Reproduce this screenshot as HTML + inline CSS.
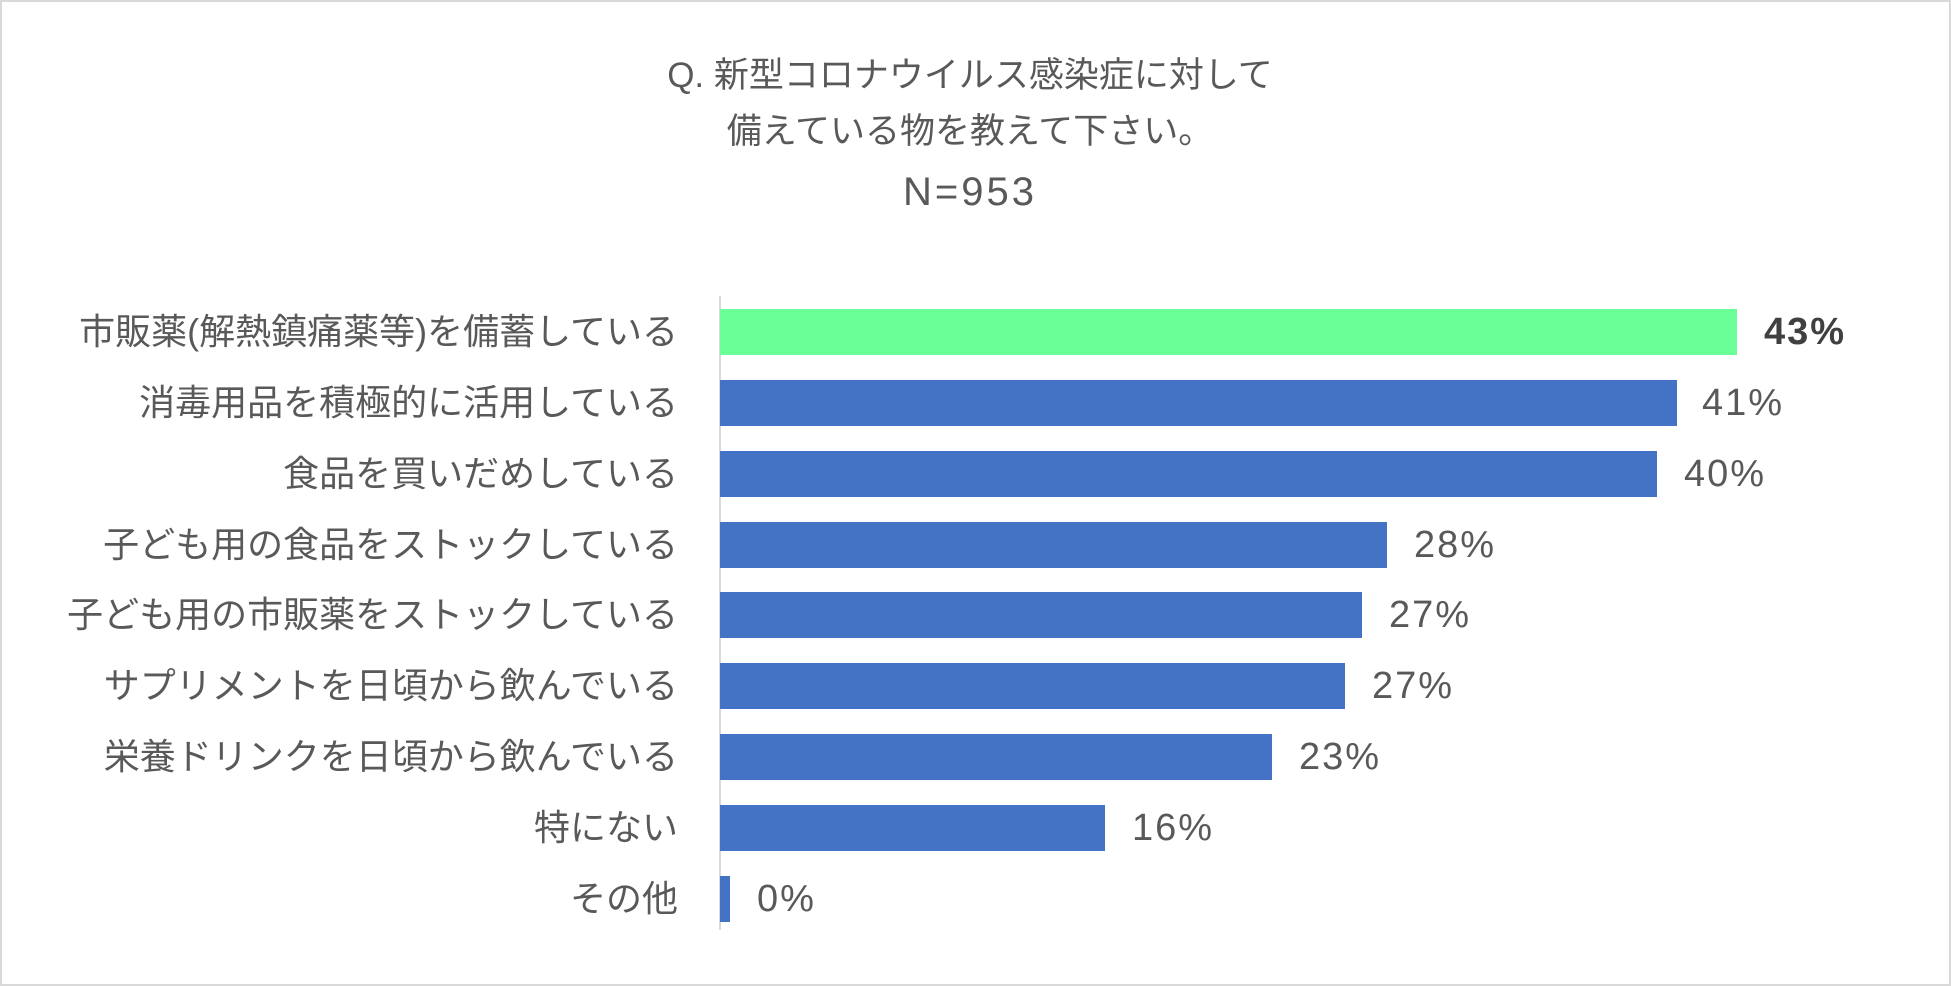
<!DOCTYPE html>
<html><head><meta charset="utf-8"><style>
html,body{margin:0;padding:0;background:#fff}
#c{position:relative;width:1951px;height:986px;overflow:hidden;font-family:"Liberation Sans","Noto Sans CJK JP",sans-serif;color:#595959}
.b{position:absolute;left:0;top:0;width:1947px;height:982px;border:2px solid #d9d9d9}
.t{position:absolute;left:0;width:1940px;text-align:center;font-size:35px;line-height:40px}
.bar{position:absolute;left:720px;height:46px;background:#4472c4}
.l{position:absolute;right:1273px;font-size:36px;line-height:46px;white-space:nowrap}
.v{position:absolute;font-size:38px;line-height:46px;letter-spacing:2px}
</style></head><body><div id="c">
<div class="b"></div>
<div class="t" style="top:56px">Q. 新型コロナウイルス感染症に対して</div>
<div class="t" style="top:112px">備えている物を教えて下さい。</div>
<div class="t" style="top:172px;font-size:40px;letter-spacing:3px">N=953</div>
<div style="position:absolute;left:719px;top:296px;width:2px;height:634px;background:#d9d9d9"></div>

<div class="bar" style="top:309px;width:1017px;background:#6bff98"></div>
<div class="l" style="top:309px">市販薬(解熱鎮痛薬等)を備蓄している</div>
<div class="v" style="top:309px;left:1764px;font-weight:bold;color:#404040">43%</div>

<div class="bar" style="top:380px;width:957px"></div>
<div class="l" style="top:380px">消毒用品を積極的に活用している</div>
<div class="v" style="top:380px;left:1702px">41%</div>

<div class="bar" style="top:451px;width:937px"></div>
<div class="l" style="top:451px">食品を買いだめしている</div>
<div class="v" style="top:451px;left:1684px">40%</div>

<div class="bar" style="top:522px;width:667px"></div>
<div class="l" style="top:522px">子ども用の食品をストックしている</div>
<div class="v" style="top:522px;left:1414px">28%</div>

<div class="bar" style="top:592px;width:642px"></div>
<div class="l" style="top:592px">子ども用の市販薬をストックしている</div>
<div class="v" style="top:592px;left:1389px">27%</div>

<div class="bar" style="top:663px;width:625px"></div>
<div class="l" style="top:663px">サプリメントを日頃から飲んでいる</div>
<div class="v" style="top:663px;left:1372px">27%</div>

<div class="bar" style="top:734px;width:552px"></div>
<div class="l" style="top:734px">栄養ドリンクを日頃から飲んでいる</div>
<div class="v" style="top:734px;left:1299px">23%</div>

<div class="bar" style="top:805px;width:385px"></div>
<div class="l" style="top:805px">特にない</div>
<div class="v" style="top:805px;left:1132px">16%</div>

<div class="bar" style="top:876px;width:10px"></div>
<div class="l" style="top:876px">その他</div>
<div class="v" style="top:876px;left:757px">0%</div>
</div></body></html>
